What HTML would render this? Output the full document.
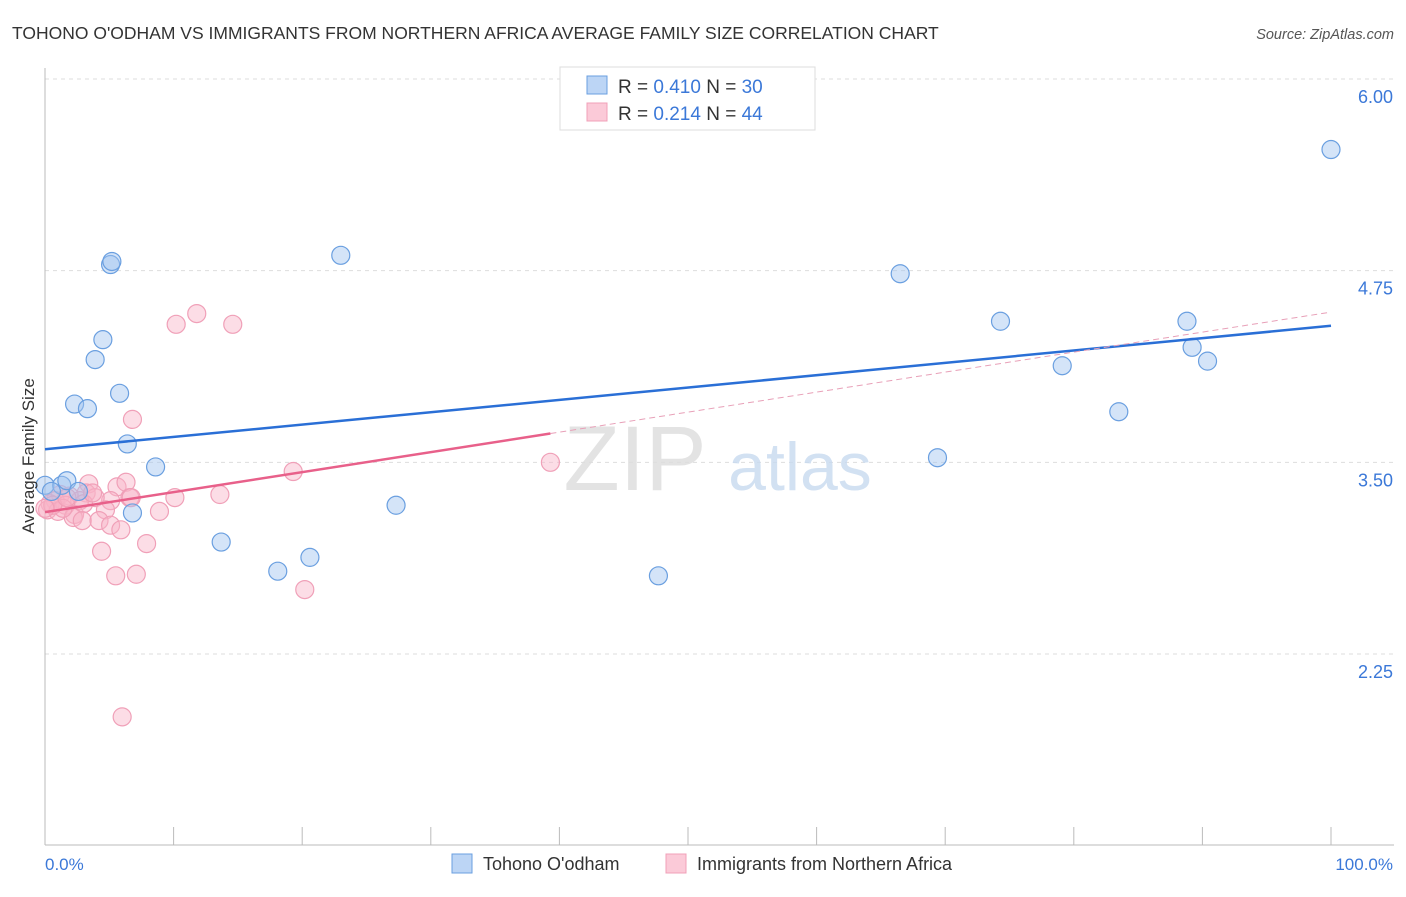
<!DOCTYPE html>
<html><head><meta charset="utf-8"><style>
body{margin:0;background:#fff;font-family:"Liberation Sans",sans-serif;}
svg text{font-family:"Liberation Sans",sans-serif;}
</style></head><body>
<svg id="chart" width="1406" height="892">
<text x="12" y="39" font-size="17.5" fill="#333">TOHONO O'ODHAM VS IMMIGRANTS FROM NORTHERN AFRICA AVERAGE FAMILY SIZE CORRELATION CHART</text>
<text x="1394" y="39" font-size="14.5" fill="#555" font-style="italic" text-anchor="end">Source: ZipAtlas.com</text>
<g id="grid"></g>
<g>
<text x="635" y="490" font-size="92" fill="#ddd" font-family="Liberation Serif" text-anchor="middle" opacity="0.8">ZIP</text>
<text x="800" y="490" font-size="68" fill="#c8daf0" text-anchor="middle" opacity="0.8">atlas</text>
</g>
<line x1="45" y1="68" x2="45" y2="845" stroke="#bbb"/>
<line x1="45" y1="845" x2="1394" y2="845" stroke="#bbb"/>
<g id="xticks"></g>
<g id="pts"></g>
<g id="lines"></g>
<text transform="translate(34,456) rotate(-90)" font-size="17" fill="#333" text-anchor="middle">Average Family Size</text>
<text x="45" y="870" font-size="17" fill="#3b78d8">0.0%</text>
<text x="1393" y="870" font-size="17" fill="#3b78d8" text-anchor="end">100.0%</text>
<g>
<rect x="560" y="67" width="255" height="63" fill="#fff" stroke="#ddd"/>
<rect x="587" y="76" width="20" height="18" fill="#bcd5f5" stroke="#6a9fe0"/>
<rect x="587" y="103" width="20" height="18" fill="#fbcad8" stroke="#f0a0b8"/>
<text x="618" y="93" font-size="19" fill="#333">R = <tspan fill="#3b78d8">0.410</tspan>   N = <tspan fill="#3b78d8">30</tspan></text>
<text x="618" y="120" font-size="19" fill="#333">R = <tspan fill="#3b78d8">0.214</tspan>   N = <tspan fill="#3b78d8">44</tspan></text>
</g>
<g>
<rect x="452" y="854" width="20" height="19" fill="#bcd5f5" stroke="#6a9fe0"/>
<text x="483" y="870" font-size="18" fill="#333">Tohono O'odham</text>
<rect x="666" y="854" width="20" height="19" fill="#fbcad8" stroke="#f0a0b8"/>
<text x="697" y="870" font-size="18" fill="#333">Immigrants from Northern Africa</text>
</g>
</svg>
<script>
const yTicks=[2.25,3.5,4.75,6.0];
const yTickLabels=["2.25","3.50","4.75","6.00"];
const xTickCount=10;
const blueX=[0,1.3,1.7,2.6,2.3,3.3,3.9,4.5,5.1,5.2,5.8,6.4,8.6,6.8,13.7,18.1,20.6,23.0,27.3,47.7,66.5,69.4,74.3,79.1,83.5,88.8,89.2,90.4,100,0.5];
const blueY=[3.35,3.35,3.38,3.31,3.88,3.85,4.17,4.30,4.79,4.81,3.95,3.62,3.47,3.17,2.98,2.79,2.88,4.85,3.22,2.76,4.73,3.53,4.42,4.13,3.83,4.42,4.25,4.16,5.54,3.31];
const pinkX=[11.8,10.2,14.6,6.8,19.3,39.3,3.4,5.6,6.3,3.2,5.1,3.9,10.1,13.6,6.6,1.2,1.9,2.7,0.8,1.6,0.4,0.2,1.0,2.3,3.0,4.7,8.9,2.2,2.9,4.2,5.1,5.9,7.9,4.4,5.5,7.1,20.2,6.0,1.4,0.6,0,3.7,6.7,1.7];
const pinkY=[4.47,4.40,4.40,3.78,3.44,3.50,3.36,3.34,3.37,3.30,3.25,3.27,3.27,3.29,3.27,3.29,3.28,3.25,3.25,3.22,3.23,3.19,3.18,3.16,3.23,3.19,3.18,3.14,3.12,3.12,3.09,3.06,2.97,2.92,2.76,2.77,2.67,1.84,3.20,3.22,3.20,3.30,3.27,3.27];
const NS='http://www.w3.org/2000/svg';
const X=v=>45+v*12.86;
const Y=v=>79+(6-v)*153.33;
function mk(tag,attrs,parent){const e=document.createElementNS(NS,tag);for(const k in attrs)e.setAttribute(k,attrs[k]);parent.appendChild(e);return e;}
const grid=document.getElementById('grid');
yTicks.forEach((t,i)=>{
 const l=mk('line',{x1:45,x2:1394,y1:Y(t),y2:Y(t),stroke:'#ddd','stroke-dasharray':'4,4'},grid);
 
 
 const tx=mk('text',{x:1393,y:Y(t)+24,'font-size':18,fill:'#3b78d8','text-anchor':'end'},grid);
 tx.textContent=yTickLabels[i];
 
 
});
const xt=document.getElementById('xticks');
for(let i=1;i<=xTickCount;i++){
 const l=mk('line',{x1:X(i*10),x2:X(i*10),y1:827,y2:845,stroke:'#bbb'},xt);
 
 
}
const pts=document.getElementById('pts');
pinkX.forEach((x,i)=>{
 const c=mk('circle',{cx:X(x),cy:Y(pinkY[i]),r:9,fill:'rgba(248,180,200,0.45)',stroke:'#f0a0b8','stroke-width':1.2},pts);
 
 
});
blueX.forEach((x,i)=>{
 const c=mk('circle',{cx:X(x),cy:Y(blueY[i]),r:9,fill:'rgba(160,195,240,0.45)',stroke:'#6a9fe0','stroke-width':1.2},pts);
 
 
});
function reg(xs,ys){const n=xs.length;let sx=0,sy=0,sxx=0,sxy=0;for(let i=0;i<n;i++){sx+=xs[i];sy+=ys[i];sxx+=xs[i]*xs[i];sxy+=xs[i]*ys[i];}const b=(n*sxy-sx*sy)/(n*sxx-sx*sx);return[(sy-b*sx)/n,b];}
const lines=document.getElementById('lines');
const [ba,bb]=reg(blueX,blueY);
let l=mk('line',{x1:X(0),y1:Y(ba),x2:X(100),y2:Y(ba+bb*100),stroke:'#2a6fd6','stroke-width':2.5},lines);


const [pa,pb]=reg(pinkX,pinkY);
const pmax=Math.max(...pinkX);
l=mk('line',{x1:X(0),y1:Y(pa),x2:X(pmax),y2:Y(pa+pb*pmax),stroke:'#e8608a','stroke-width':2.5},lines);


l=mk('line',{x1:X(pmax),y1:Y(pa+pb*pmax),x2:X(100),y2:Y(pa+pb*100),stroke:'#e8a0b8','stroke-width':1,'stroke-dasharray':'6,4'},lines);


</script>
</body></html>
